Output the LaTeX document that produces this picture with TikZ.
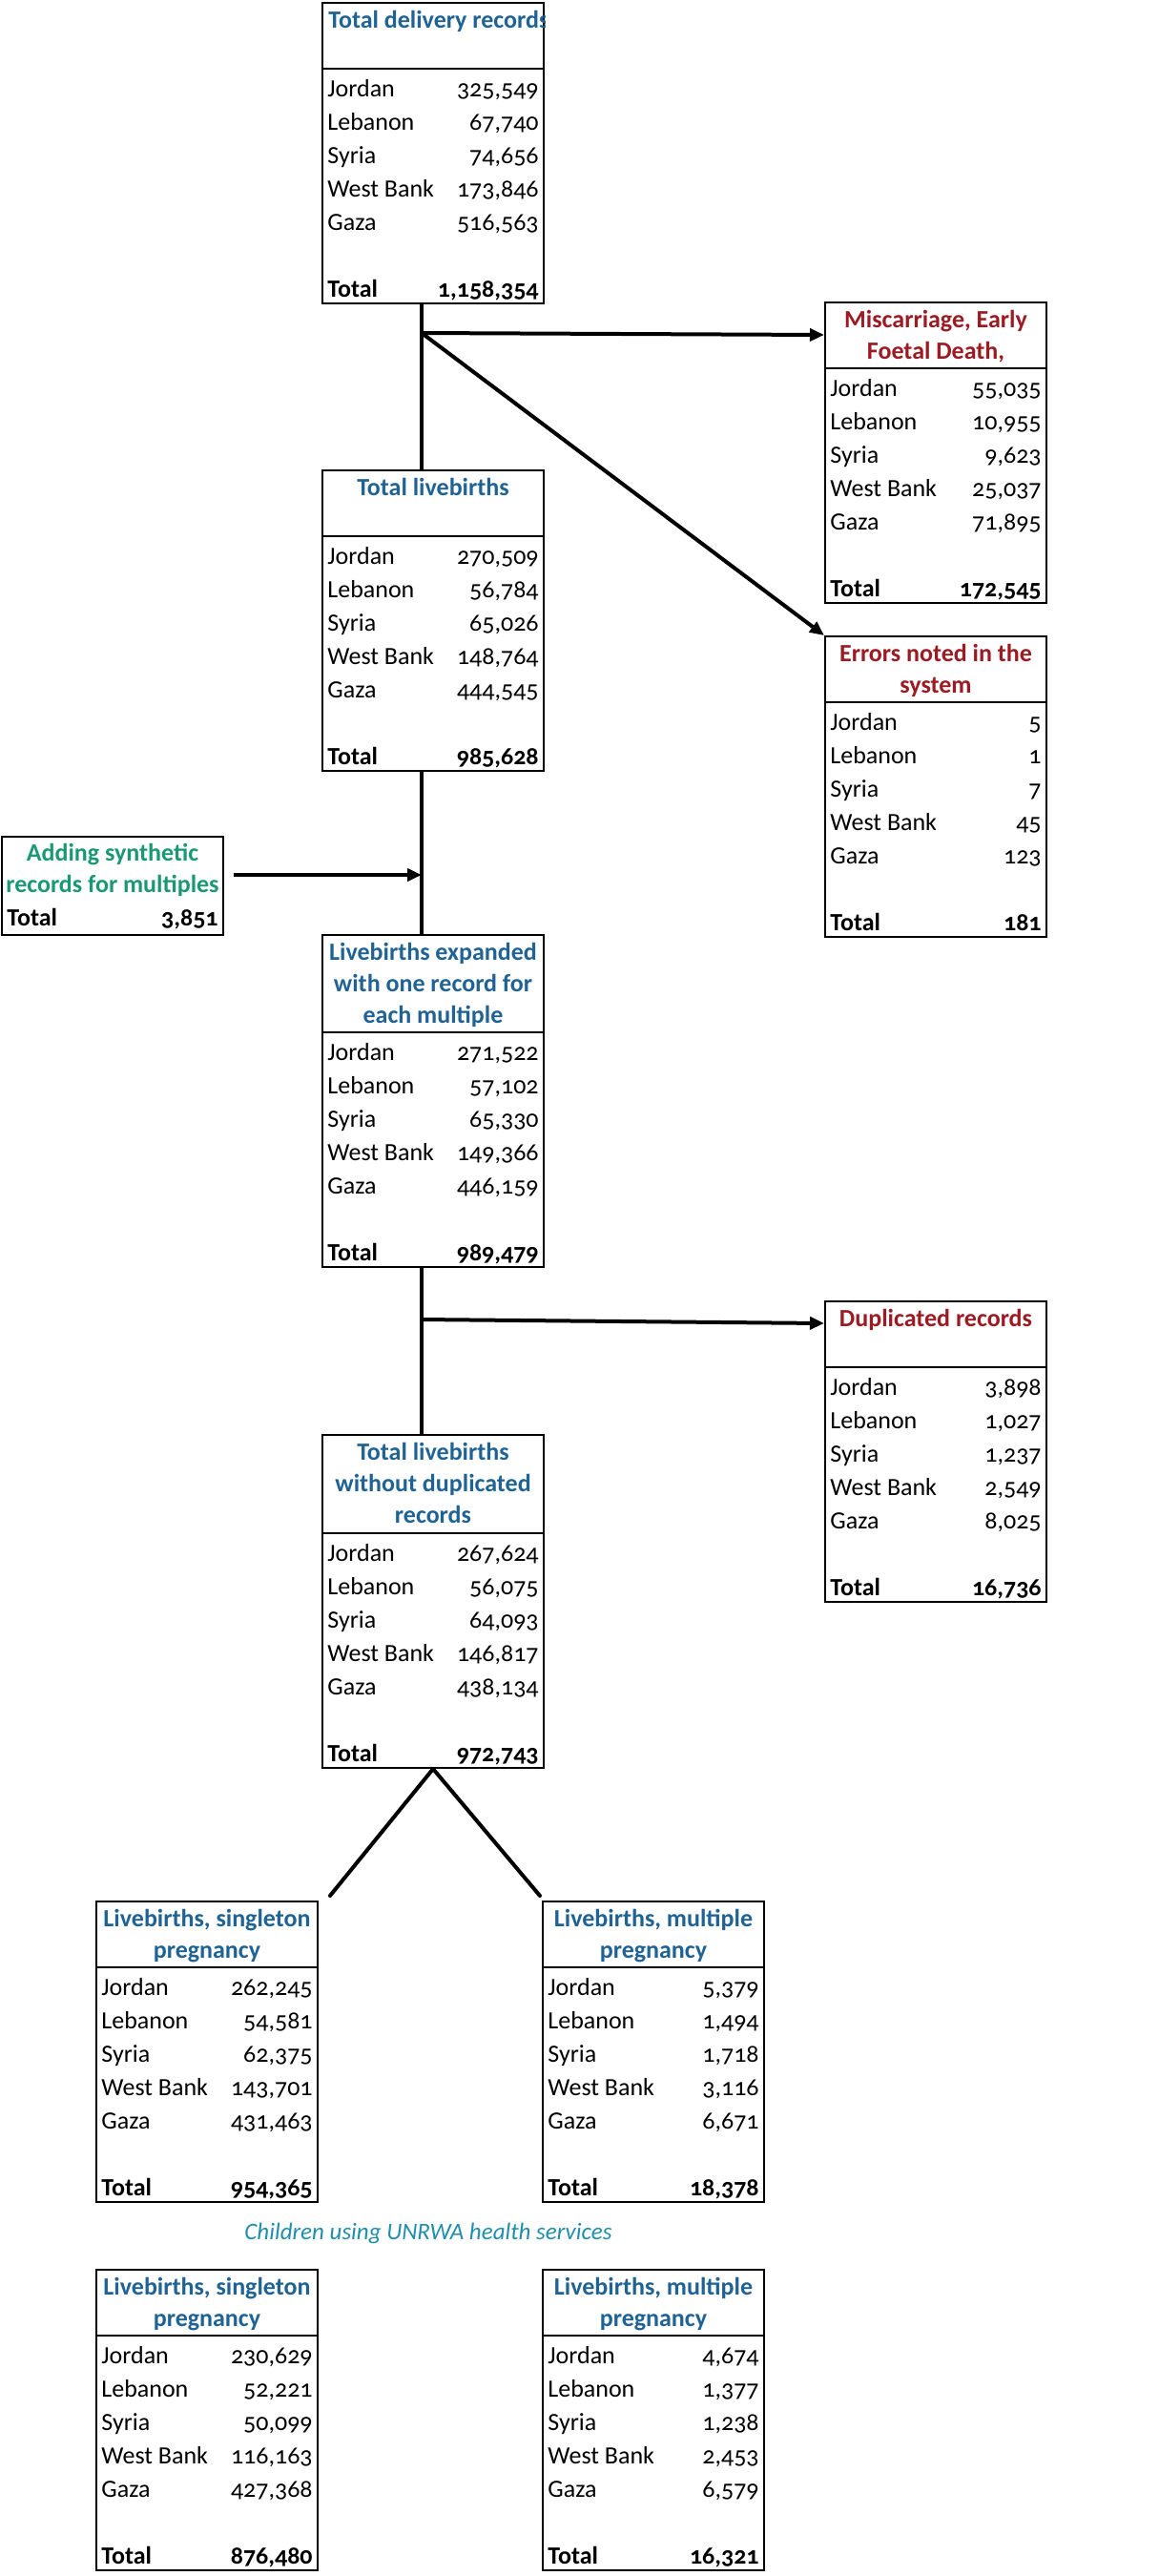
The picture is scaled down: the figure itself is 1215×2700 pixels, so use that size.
\documentclass[tikz,border=0pt]{standalone}
\usepackage{fontspec}
\setmainfont{Carlito}[Numbers=OldStyle]
\usetikzlibrary{arrows.meta,calc}

\definecolor{headblue}{RGB}{31,98,148}
\definecolor{dropred}{RGB}{156,26,34}
\definecolor{addgreen}{RGB}{26,152,118}
\definecolor{capteal}{RGB}{32,142,170}

\newcommand{\rowfont}{\fontsize{13}{15}\selectfont}
\newcommand{\totfont}{\bfseries\fontsize{13}{15}\selectfont}
\newcommand{\boxheadfont}{\bfseries\fontsize{13}{16.5}\selectfont}
\newcommand{\countryname}[1]{\ifcase#1\or Jordan\or Lebanon\or Syria\or West Bank\or Gaza\fi}

\tikzset{
    boxframe/.style={draw, line width=1pt, minimum width=116pt, inner sep=0pt, anchor=north west},
    boxrule/.style={line width=1pt},
    titlemid/.style={anchor=base, inner sep=0pt, font=\boxheadfont},
    titleleft/.style={titlemid, anchor=base west, xshift=-55pt},
    rowname/.style={anchor=base west, inner sep=0pt, font=\rowfont},
    rowval/.style={anchor=base east, inner sep=0pt, font=\rowfont},
    flow/.style={line width=2pt, line cap=round},
    flowarrow/.style={line width=2pt, -{Triangle[length=7.5pt,width=6.5pt]}},
    captext/.style={anchor=base, inner sep=0pt, text=capteal, font=\itshape\fontsize{12.5}{15}\selectfont}
}

% [title style]{name}{top left}{header height}{colour}{title}{values}{total}
\newcommand{\databox}[8][titlemid]{%
    \node[boxframe, minimum height={(#4+245)*0.5pt}] (#2) at #3 {};
    \draw[boxrule] ($(#2.north west)+(0,#4)$) -- ($(#2.north east)+(0,#4)$);
    \begin{scope}
        \clip (#2.north west) rectangle (#2.south east);
        \node[#1, text=#5] (#2-title) at ($(#2.north)+(0,27)$) {\begin{tabular}[t]{@{}c@{}}#6\end{tabular}};
    \end{scope}
    \foreach \v [count=\i] in {#7} {
        \node[rowname] (#2-n\i) at ($(#2.north west)+(6,#4+29+35*\i-35)$) {\countryname{\i}};
        \node[rowval] (#2-v\i) at ($(#2.north east)+(-6,#4+29+35*\i-35)$) {\v};
    }
    \node[rowname, font=\totfont] (#2-tn) at ($(#2.north west)+(6,#4+239)$) {Total};
    \node[rowval, font=\totfont] (#2-tv) at ($(#2.north east)+(-6,#4+239)$) {#8};
}

\begin{document}
\begin{tikzpicture}[x=0.5pt, y=-0.5pt]
            \useasboundingbox (0,0) rectangle (1215,2700);

            \databox[titleleft]{tot}{(337,2)}{70}{headblue}{Total delivery records}{{325,549},{67,740},{74,656},{173,846},{516,563}}{1,158,354}
            \databox{misc}{(864,316)}{70}{dropred}{Miscarriage, Early\\Foetal Death,}{{55,035},{10,955},{9,623},{25,037},{71,895}}{172,545}
            \databox{err}{(864,666)}{70}{dropred}{Errors noted in the\\system}{5,1,7,45,123}{181}
            \databox{live}{(337,492)}{70}{headblue}{Total livebirths}{{270,509},{56,784},{65,026},{148,764},{444,545}}{985,628}
            \databox{expd}{(337,979)}{103}{headblue}{Livebirths expanded\\with one record for\\each multiple}{{271,522},{57,102},{65,330},{149,366},{446,159}}{989,479}
            \databox{dup}{(864,1363)}{70}{dropred}{Duplicated records}{{3,898},{1,027},{1,237},{2,549},{8,025}}{16,736}
            \databox{nodup}{(337,1503)}{104}{headblue}{Total livebirths\\without duplicated\\records}{{267,624},{56,075},{64,093},{146,817},{438,134}}{972,743}
            \databox{sing}{(100,1992)}{70}{headblue}{Livebirths, singleton\\pregnancy}{{262,245},{54,581},{62,375},{143,701},{431,463}}{954,365}
            \databox{mult}{(568,1992)}{70}{headblue}{Livebirths, multiple\\pregnancy}{{5,379},{1,494},{1,718},{3,116},{6,671}}{18,378}
            \databox{usesing}{(100,2378)}{70}{headblue}{Livebirths, singleton\\pregnancy}{{230,629},{52,221},{50,099},{116,163},{427,368}}{876,480}
            \databox{usemult}{(568,2378)}{70}{headblue}{Livebirths, multiple\\pregnancy}{{4,674},{1,377},{1,238},{2,453},{6,579}}{16,321}

            \node[boxframe, minimum height=51.5pt] (add) at (1,876) {};
            \node[titlemid, text=addgreen] (add-title) at ($(add.north)+(0,26)$) {\begin{tabular}[t]{@{}c@{}}Adding synthetic\\records for multiples\end{tabular}};
            \node[rowname, font=\totfont] (add-tn) at ($(add.north west)+(6,94)$) {Total};
            \node[rowval, font=\totfont] (add-tv) at ($(add.north east)+(-6,94)$) {3,851};

            \node[captext] (usecap) at (449,2347) {Children using UNRWA health services};

            \coordinate (trunk) at (442,0);
            \coordinate (br1) at (442,349);
            \coordinate (br2) at (442,1383);
            \coordinate (addin) at (442,917);

            \draw[flow] (tot.south -| trunk) -- (live.north -| trunk);
            \draw[flowarrow] (br1) -- ($(misc.north west)+(0,35)$);
            \draw[flowarrow] (br1) -- (err.north west);
            \draw[flow] (live.south -| trunk) -- (expd.north -| trunk);
            \draw[flowarrow] ($(add.east |- addin)+(10,0)$) -- (addin);
            \draw[flow] (expd.south -| trunk) -- (nodup.north -| trunk);
            \draw[flowarrow] (br2) -- ($(dup.north west)+(0,24)$);
            \draw[flow] (nodup.south) -- ($(sing.north east)+(12,-5)$);
            \draw[flow] (nodup.south) -- ($(mult.north west)+(-2,-5)$);
        \end{tikzpicture}
\end{document}
